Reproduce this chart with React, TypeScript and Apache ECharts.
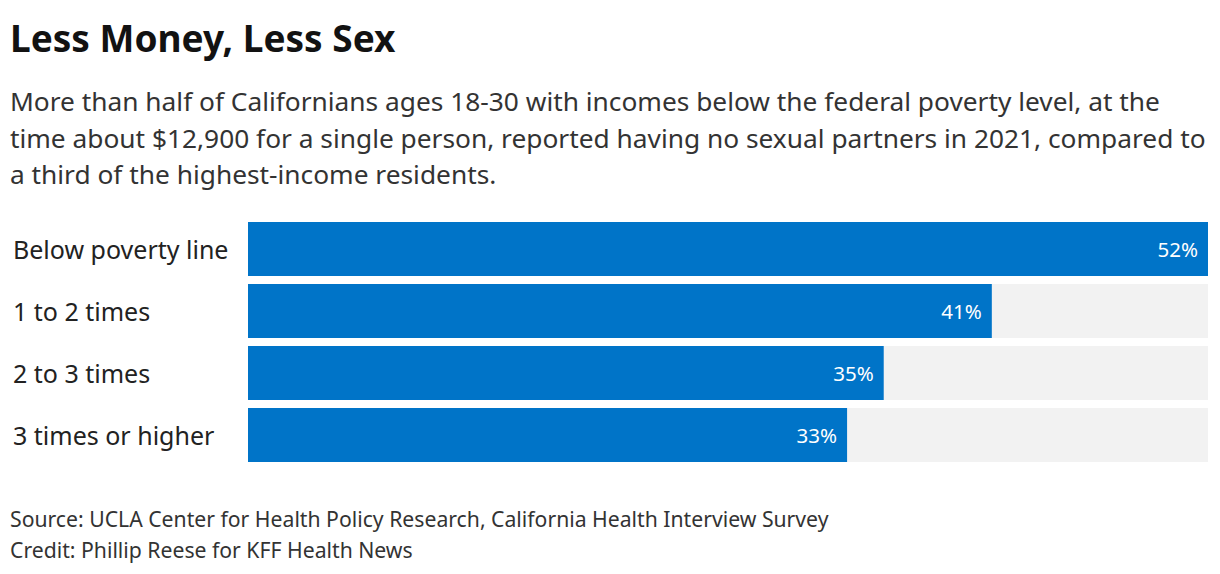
import React, { useEffect, useRef } from "react";
import * as echarts from "echarts";

const categories = ["Below poverty line", "1 to 2 times", "2 to 3 times", "3 times or higher"];
const values = [52.4, 40.6, 34.7, 32.7];
const title = "Less Money, Less Sex";
const subtitleLines = [
  "More than half of Californians ages 18-30 with incomes below the federal poverty level, at the",
  "time about $12,900 for a single person, reported having no sexual partners in 2021, compared to",
  "a third of the highest-income residents.",
];
const footerLines = [
  "Source: UCLA Center for Health Policy Research, California Health Interview Survey",
  "Credit: Phillip Reese for KFF Health News",
];

const FONT = "'Noto Sans', sans-serif";

export default function App() {
  const ref = useRef<HTMLDivElement>(null);
  useEffect(() => {
    if (!ref.current) return;
    const chart = echarts.init(ref.current, null, { renderer: "svg" });
    chart.setOption({
      animation: false,
      backgroundColor: "#ffffff",
      textStyle: { fontFamily: FONT },
      graphic: [
        {
          type: "text",
          left: 10,
          top: 19,
          style: { text: title, font: `bold 37px ${FONT}`, fill: "#121212" },
        },
        ...subtitleLines.map((t, i) => ({
          type: "text",
          left: 10,
          top: 88 + i * 36.5,
          style: { text: t, font: `26.3px ${FONT}`, fill: "#333333" },
        })),
        ...footerLines.map((t, i) => ({
          type: "text",
          left: 10,
          top: 508 + i * 31,
          style: { text: t, font: `21.2px ${FONT}`, fill: "#333333" },
        })),
      ],
      grid: { left: 248, right: 12, top: 218, bottom: 108, containLabel: false },
      xAxis: { type: "value", min: 0, max: 52.4, show: false },
      yAxis: {
        type: "category",
        data: categories,
        inverse: true,
        axisLine: { show: false },
        axisTick: { show: false },
        axisLabel: {
          margin: 235,
          align: "left",
          fontSize: 25,
          color: "#222222",
          fontFamily: FONT,
        },
      },
      series: [
        {
          type: "bar",
          data: values,
          barWidth: 54,
          itemStyle: { color: "#0074c8" },
          showBackground: true,
          backgroundStyle: { color: "#f2f2f2" },
          label: {
            show: true,
            position: "insideRight",
            distance: 10,
            color: "#ffffff",
            fontSize: 20.5,
            fontFamily: FONT,
            formatter: (p: any) => Math.round(p.value) + "%",
          },
        },
      ],
    });
    return () => chart.dispose();
  }, []);
  return (
    <div
      ref={ref}
      style={{ position: "fixed", left: 0, top: 0, width: 1220, height: 574 }}
    />
  );
}
